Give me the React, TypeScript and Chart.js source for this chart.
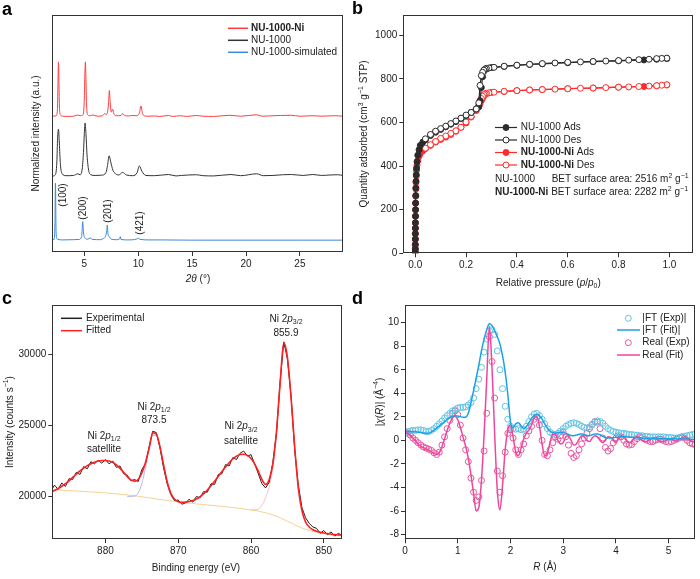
import React, { useEffect, useRef } from "react";
import { Chart, registerables } from "chart.js";
Chart.register(...registerables);

const FONT = "'Liberation Sans', Arial, Helvetica, sans-serif";
const TXT = "#222";
const AX = "#333";

// ---------------- Panel a: PXRD ----------------
const xrdNiX = [2.0, 2.4, 2.5, 2.55, 2.6, 2.65, 2.7, 2.8, 3.0, 3.5, 4.0, 4.4, 4.6, 4.9, 5.0, 5.05, 5.1, 5.15, 5.2, 5.3, 5.5, 5.8, 6.2, 6.7, 6.9, 7.0, 7.15, 7.25, 7.32, 7.4, 7.5, 7.62, 7.72, 8.0, 8.4, 8.55, 8.75, 9.1, 9.4, 9.8, 10.1, 10.25, 10.4, 10.6, 11, 11.5, 12, 12.8, 13.2, 13.9, 14.5, 15.4, 16, 17, 18.5, 19.5, 21.0, 21.5, 22.5, 23.2, 24.2, 25, 26.2, 27, 28.2, 29];
const xrdNiY = [57.3, 57.5, 60, 70, 80.2, 70, 60, 57.8, 57.3, 57.2, 57.3, 57.8, 57.5, 58, 65, 75, 80.2, 73, 63, 58, 57.5, 57.8, 57.3, 57.5, 58.5, 58, 59, 63, 68.1, 63, 59, 60.3, 58.5, 57.5, 57.6, 58.4, 57.6, 57.4, 57.6, 57.5, 58.5, 61.6, 58.5, 57.4, 57.3, 57.4, 57.2, 57.6, 57.2, 57.5, 57.2, 57.6, 57.3, 57.2, 57.7, 57.3, 57.9, 57.3, 57.5, 57.6, 57.7, 57.3, 57.5, 57.3, 57.5, 57.3];
const xrdNuX = [2.0, 2.3, 2.45, 2.52, 2.6, 2.68, 2.78, 2.95, 3.3, 4.0, 4.4, 4.6, 4.8, 4.92, 5.0, 5.07, 5.15, 5.25, 5.4, 5.6, 6.0, 6.6, 7.0, 7.15, 7.3, 7.45, 7.65, 7.9, 8.2, 8.55, 8.9, 9.5, 9.9, 10.1, 10.35, 10.7, 11.5, 12.8, 13.5, 14.0, 15.4, 16.0, 17.0, 18.6, 19.5, 21.0, 21.6, 22.5, 23.4, 24.2, 25.3, 26.2, 27.0, 27.8, 28.5, 29.0];
const xrdNuY = [32.0, 32.5, 38, 48, 51.9, 46, 37, 33, 32.2, 32.3, 33, 32.6, 35, 42, 50, 54.4, 50, 41, 34.5, 32.6, 32.3, 32.4, 33.5, 36.5, 40.6, 38, 34.5, 33, 32.5, 33.6, 32.5, 32.2, 33.5, 36.3, 34, 32.3, 32.2, 32.7, 32.1, 32.3, 32.6, 32.2, 32.1, 32.7, 32.2, 33.0, 32.2, 32.3, 32.6, 32.7, 32.3, 32.7, 32.3, 32.5, 32.6, 32.3];
const xrdSimX = [2.0, 2.2, 2.27, 2.32, 2.38, 2.5, 3.0, 4.0, 4.5, 4.75, 4.85, 4.93, 5.05, 5.3, 5.6, 5.68, 5.76, 6.5, 6.8, 6.95, 7.08, 7.13, 7.2, 7.35, 7.5, 8.0, 8.28, 8.33, 8.4, 9.0, 9.9, 10.0, 10.1, 11.0, 12.0, 15.0, 20.0, 25.0, 29.0];
const xrdSimY = [5.2, 5.3, 12, 29.1, 8, 5.4, 5.1, 5.2, 5.3, 6.5, 12.8, 8, 6, 5.4, 6.0, 5.4, 5.3, 5.2, 5.8, 6.5, 9, 11.4, 7.5, 6.3, 5.4, 5.2, 5.5, 6.5, 5.3, 5.1, 5.5, 6.0, 5.4, 5.1, 5.1, 5.0, 5.0, 5.0, 5.0];
const xrdTicks = [5, 10, 15, 20, 25];
const hklLabels = ["(100)", "(200)", "(201)", "(421)"];

// ---------------- Panel b: N2 isotherms ----------------
const adsP = [0.0001, 0.0002, 0.0003, 0.0004, 0.0005, 0.0006, 0.0008, 0.001, 0.0012, 0.0015, 0.002, 0.0025, 0.003, 0.004, 0.005, 0.007, 0.01, 0.015, 0.02, 0.03, 0.04, 0.06, 0.08, 0.1, 0.12, 0.14, 0.16, 0.18, 0.2, 0.22, 0.24, 0.25, 0.255, 0.26, 0.265, 0.27, 0.28, 0.3, 0.35, 0.4, 0.45, 0.5, 0.6, 0.7, 0.8, 0.9, 0.95, 0.99];
const nuAds = [5, 20, 40, 65, 90, 115, 140, 170, 200, 230, 265, 300, 330, 360, 390, 420, 450, 475, 495, 510, 520, 540, 555, 568, 580, 592, 604, 618, 632, 646, 662, 672, 700, 760, 810, 835, 845, 852, 857, 862, 866, 869, 874, 879, 883, 887, 890, 893];
const niAds = [5, 20, 40, 65, 90, 115, 140, 170, 200, 230, 262, 295, 325, 355, 380, 405, 425, 445, 458, 470, 480, 495, 510, 522, 533, 545, 560, 578, 598, 625, 655, 672, 685, 700, 712, 722, 732, 738, 742, 746, 749, 751, 755, 758, 762, 765, 768, 772];
const desP = [0.99, 0.97, 0.95, 0.92, 0.88, 0.84, 0.8, 0.75, 0.7, 0.65, 0.6, 0.55, 0.5, 0.45, 0.4, 0.35, 0.31, 0.29, 0.28, 0.275, 0.27, 0.265, 0.26, 0.255, 0.25, 0.24, 0.22, 0.2, 0.18, 0.16, 0.14, 0.12, 0.1, 0.08, 0.06, 0.04];
const nuDes = [895, 894, 893, 890, 888, 886, 884, 882, 880, 878, 876, 873, 870, 867, 863, 858, 853, 850, 848, 845, 840, 830, 815, 770, 690, 662, 646, 634, 620, 607, 595, 583, 572, 560, 545, 525];
const niDes = [773, 771, 769, 767, 765, 763, 762, 760, 758, 757, 755, 753, 751, 749, 746, 743, 739, 736, 734, 731, 727, 720, 710, 695, 678, 658, 628, 602, 578, 562, 550, 538, 527, 513, 498, 482];
const isoXTicks = [0, 0.2, 0.4, 0.6, 0.8, 1.0];
const isoYTicks = [0, 200, 400, 600, 800, 1000];

// ---------------- Panel c: XPS ----------------
const xpsE = [887.5, 887, 886.5, 886, 885.5, 885, 884.5, 884, 883.5, 883, 882.5, 882, 881.5, 881, 880.5, 880, 879.5, 879, 878.5, 878, 877.5, 877, 876.5, 876, 875.5, 875, 874.5, 874, 873.5, 873, 872.5, 872, 871.5, 871, 870.5, 870, 869.5, 869, 868.5, 868, 867.5, 867, 866.5, 866, 865.5, 865, 864.5, 864, 863.5, 863, 862.5, 862, 861.5, 861, 860.5, 860, 859.5, 859, 858.5, 858, 857.5, 857, 856.5, 856, 855.5, 855, 854.5, 854, 853.5, 853, 852.5, 852, 851.5, 851, 850.5, 850, 849.5, 849, 848.5, 848, 847.5];
const xpsExp = [20350, 20800, 20500, 20950, 20700, 21250, 21200, 21700, 21550, 22100, 21950, 22450, 22300, 22550, 22350, 22600, 22300, 22500, 22050, 22150, 21600, 21500, 21100, 21200, 21050, 21900, 22300, 23500, 24600, 24500, 23400, 22000, 20900, 20150, 19700, 19750, 19450, 19550, 19800, 19600, 20000, 19900, 20350, 20300, 20900, 20850, 21550, 21600, 22250, 22150, 22750, 22600, 23050, 23200, 22850, 22950, 22300, 21600, 20900, 20600, 21000, 22400, 24500, 28100, 30900, 29700, 27100, 23300, 20800, 19200, 18500, 18100, 17850, 17750, 17400, 17600, 17300, 17500, 17200, 17400, 17250];
const xpsFit = [20300, 20420, 20560, 20720, 20900, 21100, 21350, 21580, 21800, 22000, 22170, 22310, 22420, 22500, 22540, 22540, 22500, 22400, 22220, 21980, 21700, 21400, 21170, 21080, 21200, 21650, 22400, 23400, 24480, 24380, 23500, 22200, 21000, 20200, 19800, 19620, 19580, 19600, 19650, 19720, 19820, 19980, 20200, 20460, 20760, 21080, 21420, 21760, 22080, 22380, 22640, 22840, 22960, 22980, 22900, 22680, 22300, 21780, 21200, 20850, 21200, 22300, 24600, 28000, 30850, 29800, 27000, 23500, 20600, 19000, 18200, 17850, 17650, 17550, 17480, 17420, 17380, 17340, 17310, 17290, 17270];
const bgE = [887.5, 884, 880, 876, 872, 868, 864, 860, 858, 856, 854, 852, 850, 847.5];
const bgI = [20480, 20380, 20250, 20050, 19750, 19500, 19300, 19050, 18850, 18500, 18000, 17600, 17400, 17230];
const p12E = [877, 876, 875.5, 875, 874.5, 874, 873.5, 873, 872.5, 872, 871.5, 871, 870.5, 870];
const p12I = [20000, 20020, 20250, 20900, 22000, 23300, 24300, 24300, 23400, 22000, 20800, 20050, 19750, 19700];
const p32E = [860, 859, 858.5, 858, 857.5, 857, 856.5, 856, 855.5, 855, 854.5, 854, 853.5, 853, 852.5];
const p32I = [19050, 19100, 19400, 19900, 20700, 22000, 24300, 27800, 30700, 29700, 26900, 23400, 20400, 18900, 18100];
const xpsXTicks = [850, 860, 870, 880];
const xpsYTicks = [20000, 25000, 30000];

// ---------------- Panel d: EXAFS ----------------
const rGrid = [0, 0.05, 0.1, 0.15, 0.2, 0.25, 0.3, 0.35, 0.4, 0.45, 0.5, 0.55, 0.6, 0.65, 0.7, 0.75, 0.8, 0.85, 0.9, 0.95, 1.0, 1.05, 1.1, 1.15, 1.2, 1.25, 1.3, 1.35, 1.4, 1.45, 1.5, 1.55, 1.6, 1.65, 1.7, 1.75, 1.8, 1.85, 1.9, 1.95, 2.0, 2.05, 2.1, 2.15, 2.2, 2.25, 2.3, 2.35, 2.4, 2.45, 2.5, 2.55, 2.6, 2.65, 2.7, 2.75, 2.8, 2.85, 2.9, 2.95, 3.0, 3.05, 3.1, 3.15, 3.2, 3.25, 3.3, 3.35, 3.4, 3.45, 3.5, 3.55, 3.6, 3.65, 3.7, 3.75, 3.8, 3.85, 3.9, 3.95, 4.0, 4.05, 4.1, 4.15, 4.2, 4.25, 4.3, 4.35, 4.4, 4.45, 4.5, 4.55, 4.6, 4.65, 4.7, 4.75, 4.8, 4.85, 4.9, 4.95, 5.0, 5.05, 5.1, 5.15, 5.2, 5.25, 5.3, 5.35, 5.4, 5.45, 5.5];
const ftExp = [0.70, 0.75, 0.80, 0.85, 0.85, 0.90, 0.90, 0.85, 0.75, 0.75, 0.85, 1.00, 1.20, 1.40, 1.65, 1.90, 2.10, 2.30, 2.50, 2.60, 2.75, 2.80, 2.80, 2.85, 3.00, 3.20, 3.60, 4.40, 5.20, 6.20, 7.50, 8.60, 9.30, 9.40, 9.00, 7.60, 6.00, 4.40, 2.90, 1.80, 1.20, 1.00, 0.95, 1.00, 0.90, 0.95, 1.20, 1.60, 2.00, 2.25, 2.30, 2.10, 1.80, 1.40, 1.00, 0.70, 0.55, 0.50, 0.60, 0.80, 1.00, 1.20, 1.35, 1.45, 1.50, 1.45, 1.35, 1.20, 1.10, 1.05, 1.15, 1.35, 1.55, 1.65, 1.60, 1.45, 1.20, 1.00, 0.85, 0.75, 0.70, 0.65, 0.60, 0.60, 0.55, 0.50, 0.50, 0.45, 0.45, 0.40, 0.40, 0.35, 0.35, 0.30, 0.30, 0.30, 0.30, 0.30, 0.30, 0.25, 0.25, 0.25, 0.20, 0.20, 0.25, 0.30, 0.35, 0.40, 0.45, 0.50, 0.55];
const ftFit = [0.75, 0.76, 0.76, 0.75, 0.73, 0.70, 0.67, 0.63, 0.60, 0.62, 0.72, 0.88, 1.05, 1.22, 1.40, 1.58, 1.76, 1.92, 2.05, 2.10, 2.08, 2.02, 1.96, 1.97, 2.30, 3.20, 4.20, 5.30, 6.40, 7.60, 8.60, 9.40, 9.90, 9.75, 9.30, 8.80, 8.20, 7.20, 5.80, 3.90, 1.60, 1.10, 1.40, 1.50, 1.25, 1.00, 1.15, 1.50, 1.85, 2.10, 2.20, 2.10, 1.80, 1.40, 1.05, 0.80, 0.65, 0.62, 0.66, 0.70, 0.68, 0.60, 0.50, 0.42, 0.40, 0.45, 0.52, 0.55, 0.50, 0.42, 0.40, 0.48, 0.55, 0.55, 0.48, 0.35, 0.25, 0.20, 0.20, 0.23, 0.26, 0.28, 0.30, 0.30, 0.30, 0.28, 0.26, 0.25, 0.24, 0.22, 0.20, 0.18, 0.17, 0.17, 0.18, 0.18, 0.17, 0.15, 0.14, 0.14, 0.15, 0.15, 0.14, 0.12, 0.11, 0.11, 0.12, 0.12, 0.11, 0.10, 0.10];
const reExp = [0.75, 0.60, 0.45, 0.20, 0.00, -0.20, -0.40, -0.55, -0.65, -0.75, -0.85, -1.05, -1.20, -1.00, -0.40, 0.30, 1.00, 1.70, 2.30, 2.50, 2.20, 1.30, 0.20, -0.80, -1.80, -3.20, -4.40, -5.10, -4.80, -3.40, -0.90, 2.30, 8.80, 6.70, 3.60, -2.60, -4.40, -3.00, -1.00, 0.60, 0.90, 0.20, -0.80, -1.20, -0.80, -0.30, 0.40, 0.80, 1.20, 1.80, 2.00, 1.30, 0.00, -1.20, -1.30, -0.80, -0.20, 0.30, 0.10, 0.40, 0.70, 0.30, -0.40, -1.10, -1.45, -1.30, -0.80, -0.30, 0.20, 0.60, 1.00, 1.35, 1.60, 1.55, 1.00, 0.20, -0.60, -0.90, -0.70, -0.20, 0.20, 0.40, 0.30, 0.00, -0.30, -0.40, -0.35, -0.10, 0.15, 0.30, 0.25, 0.10, 0.00, -0.10, -0.10, 0.00, 0.10, 0.10, 0.00, -0.10, -0.15, -0.10, 0.00, 0.10, 0.20, 0.30, 0.20, 0.00, -0.20, -0.30, -0.35];
const reFit = [0.70, 0.60, 0.42, 0.20, -0.05, -0.30, -0.50, -0.62, -0.72, -0.82, -0.95, -1.10, -1.20, -1.05, -0.55, 0.15, 0.85, 1.45, 1.90, 2.05, 1.75, 1.10, 0.30, -0.50, -1.50, -2.90, -4.50, -6.00, -5.70, -3.40, 0.50, 5.20, 9.70, 6.20, 0.60, -4.20, -5.90, -3.80, -0.80, 0.90, 1.30, 0.30, -1.00, -1.30, -0.70, 0.10, 0.60, 0.90, 1.30, 1.90, 2.00, 1.20, -0.30, -1.30, -1.10, -0.20, 0.50, 0.50, 0.00, -0.30, -0.20, 0.30, 0.40, 0.00, -0.40, -0.30, 0.10, 0.40, 0.30, 0.00, -0.10, 0.20, 0.40, 0.30, 0.00, -0.20, 0.00, 0.30, 0.25, 0.00, -0.20, 0.20, 0.40, 0.30, 0.00, -0.20, -0.10, 0.20, 0.30, 0.20, 0.00, -0.10, -0.05, 0.10, 0.20, 0.15, 0.00, -0.10, -0.10, 0.00, 0.10, 0.10, 0.00, -0.05, 0.10, 0.20, 0.30, 0.20, 0.00, -0.10, -0.10];
const exXTicks = [0, 1, 2, 3, 4, 5];
const exYTicks = [-8, -6, -4, -2, 0, 2, 4, 6, 8, 10];

// ---------------- helpers ----------------
const pts = (xs: number[], ys: number[]) => xs.map((x, i) => ({ x, y: ys[i] }));

type Seg = { t: string; b?: boolean; i?: boolean; sub?: boolean; sup?: boolean };
function fontOf(s: Seg, size: number) {
  const sz = s.sub || s.sup ? Math.round(size * 0.72) : size;
  return `${s.i ? "italic " : ""}${s.b ? "bold " : ""}${sz}px ${FONT}`;
}
function rich(ctx: CanvasRenderingContext2D, segs: Seg[], x: number, y: number, o: { size?: number; align?: string; rot?: number; color?: string } = {}) {
  const size = o.size ?? 10;
  ctx.save();
  ctx.translate(x, y);
  if (o.rot) ctx.rotate(o.rot);
  ctx.textBaseline = "middle";
  ctx.textAlign = "left";
  ctx.fillStyle = o.color ?? TXT;
  let w = 0;
  for (const s of segs) { ctx.font = fontOf(s, size); w += ctx.measureText(s.t).width; }
  let cx = o.align === "center" ? -w / 2 : o.align === "right" ? -w : 0;
  for (const s of segs) {
    ctx.font = fontOf(s, size);
    const dy = s.sub ? size * 0.3 : s.sup ? -size * 0.35 : 0;
    ctx.fillText(s.t, cx, dy);
    cx += ctx.measureText(s.t).width;
  }
  ctx.restore();
}
function letter(ctx: CanvasRenderingContext2D, t: string, x: number, y: number) {
  ctx.save();
  ctx.font = `bold 18px ${FONT}`;
  ctx.fillStyle = "#000";
  ctx.textBaseline = "alphabetic";
  ctx.textAlign = "left";
  ctx.fillText(t, x, y);
  ctx.restore();
}
function legLine(ctx: CanvasRenderingContext2D, x1: number, x2: number, y: number, color: string, w = 1.5) {
  ctx.save();
  ctx.strokeStyle = color;
  ctx.lineWidth = w;
  ctx.beginPath();
  ctx.moveTo(x1, y);
  ctx.lineTo(x2, y);
  ctx.stroke();
  ctx.restore();
}
function legCircle(ctx: CanvasRenderingContext2D, x: number, y: number, r: number, stroke: string, fill: string | null) {
  ctx.save();
  ctx.beginPath();
  ctx.arc(x, y, r, 0, Math.PI * 2);
  if (fill) { ctx.fillStyle = fill; ctx.fill(); }
  ctx.strokeStyle = stroke;
  ctx.lineWidth = 1;
  ctx.stroke();
  ctx.restore();
}

function axis(o: { min: number; max: number; ticks?: number[]; size: number; dir: "x" | "y"; reverse?: boolean; fmt?: (v: number) => string; hidden?: boolean }) {
  return {
    type: "linear",
    min: o.min,
    max: o.max,
    reverse: !!o.reverse,
    display: !o.hidden,
    afterBuildTicks: (s: any) => { if (o.ticks) s.ticks = o.ticks.map((v) => ({ value: v })); },
    afterFit: (s: any) => { if (o.dir === "x") s.height = o.size; else s.width = o.size; },
    ticks: {
      font: { family: FONT, size: 10 },
      color: TXT,
      padding: 2,
      maxRotation: 0,
      autoSkip: false,
      callback: (v: any) => (o.fmt ? o.fmt(Number(v)) : String(v)),
    },
    grid: { display: true, drawOnChartArea: false, drawTicks: true, tickLength: 4, color: AX, lineWidth: 1 },
    border: { display: false },
  };
}

function deco(draw: (ctx: CanvasRenderingContext2D, chart: any) => void) {
  return {
    id: "deco",
    afterDraw(chart: any) {
      const ctx = chart.ctx as CanvasRenderingContext2D;
      const a = chart.chartArea;
      ctx.save();
      ctx.strokeStyle = AX;
      ctx.lineWidth = 1;
      ctx.strokeRect(Math.round(a.left) + 0.5, Math.round(a.top) + 0.5, Math.round(a.right - a.left) - 1, Math.round(a.bottom - a.top) - 1);
      ctx.restore();
      draw(ctx, chart);
    },
  };
}

function baseOptions(padding: any, x: any, y: any) {
  return {
    responsive: false,
    maintainAspectRatio: false,
    animation: false,
    devicePixelRatio: 1,
    events: [],
    layout: { padding },
    plugins: { legend: { display: false }, tooltip: { enabled: false }, title: { display: false } },
    scales: { x, y },
  };
}

// ---------------- chart configs ----------------
function configA(): any {
  const line = (xs: number[], ys: number[], color: string) => ({
    data: pts(xs, ys), borderColor: color, borderWidth: 1, pointRadius: 0, cubicInterpolationMode: "monotone", fill: false,
  });
  const hklPos = [[63.3, 195], [83.3, 208], [108.3, 211], [140, 223]];
  return {
    type: "line",
    data: { datasets: [line(xrdNiX, xrdNiY, "#ff3c3c"), line(xrdNuX, xrdNuY, "#333333"), line(xrdSimX, xrdSimY, "#3d8ad6")] },
    options: baseOptions(
      { left: 52, right: 7, top: 15, bottom: 0 },
      axis({ min: 2, max: 29, ticks: xrdTicks, size: 38, dir: "x" }),
      axis({ min: 0, max: 100, size: 0, dir: "y", hidden: true })
    ),
    plugins: [
      deco((ctx) => {
        letter(ctx, "a", 2, 15);
        rich(ctx, [{ t: "Normalized intensity (a.u.)" }], 36, 133.5, { align: "center", rot: -Math.PI / 2 });
        rich(ctx, [{ t: "2", i: true }, { t: "θ", i: true }, { t: " (°)" }], 198, 279.5, { align: "center" });
        const leg: [Seg[], string][] = [
          [[{ t: "NU-1000-Ni", b: true }], "#ff3c3c"],
          [[{ t: "NU-1000" }], "#333333"],
          [[{ t: "NU-1000-simulated" }], "#3d8ad6"],
        ];
        leg.forEach(([segs, c], i) => {
          const y = 28.3 + i * 12;
          legLine(ctx, 228, 248, y, c, 1.5);
          rich(ctx, segs, 251, y);
        });
        hklLabels.forEach((t, i) => rich(ctx, [{ t }], hklPos[i][0], hklPos[i][1], { align: "center", rot: -Math.PI / 2 }));
      }),
    ],
  };
}

function configB(): any {
  const BLK = "#2b2b2b";
  const RED = "#ff2a2a";
  const ds = (xs: number[], ys: number[], color: string, filled: boolean) => ({
    data: pts(xs, ys), borderColor: color, borderWidth: 1.2, pointRadius: 3, pointBorderWidth: 1,
    pointBorderColor: color, pointBackgroundColor: filled ? color : "#ffffff", tension: 0, fill: false,
  });
  return {
    type: "line",
    data: {
      datasets: [ds(desP, nuDes, BLK, false), ds(adsP, nuAds, BLK, true), ds(desP, niDes, RED, false), ds(adsP, niAds, RED, true)],
    },
    options: baseOptions(
      { left: 0, right: 7, top: 15, bottom: 0 },
      axis({ min: -0.047, max: 1.093, ticks: isoXTicks, size: 36.7, dir: "x", fmt: (v) => v.toFixed(1) }),
      axis({ min: 0, max: 1093, ticks: isoYTicks, size: 53.3, dir: "y" })
    ),
    plugins: [
      deco((ctx) => {
        letter(ctx, "b", 2, 14);
        rich(ctx, [{ t: "Quantity adsorbed (cm" }, { t: "3", sup: true }, { t: " g" }, { t: "−1", sup: true }, { t: " STP)" }], 14.3, 134, { align: "center", rot: -Math.PI / 2 });
        rich(ctx, [{ t: "Relative pressure (" }, { t: "p", i: true }, { t: "/" }, { t: "p", i: true }, { t: "0", sub: true }, { t: ")" }], 198.3, 283.3, { align: "center" });
        const rows: [Seg[], string, boolean][] = [
          [[{ t: "NU-1000 Ads" }], BLK, true],
          [[{ t: "NU-1000 Des" }], BLK, false],
          [[{ t: "NU-1000-Ni", b: true }, { t: " Ads" }], RED, true],
          [[{ t: "NU-1000-Ni", b: true }, { t: " Des" }], RED, false],
        ];
        rows.forEach(([segs, c, filled], i) => {
          const y = 127.5 + i * 12.5;
          legLine(ctx, 145, 167, y, c, 1.2);
          legCircle(ctx, 156, y, 3, c, filled ? c : "#fff");
          rich(ctx, segs, 170.7, y);
        });
        rich(ctx, [{ t: "NU-1000" }], 145, 179.3);
        rich(ctx, [{ t: "BET surface area: 2516 m" }, { t: "2", sup: true }, { t: " g" }, { t: "−1", sup: true }], 201.7, 179.3);
        rich(ctx, [{ t: "NU-1000-Ni", b: true }, { t: " BET surface area: 2282 m" }, { t: "2", sup: true }, { t: " g" }, { t: "−1", sup: true }], 145, 192.7);
      }),
    ],
  };
}

function configC(): any {
  const ln = (xs: number[], ys: number[], color: string, w: number, order: number) => ({
    data: pts(xs, ys), borderColor: color, borderWidth: w, pointRadius: 0, cubicInterpolationMode: "monotone", fill: false, order,
  });
  return {
    type: "line",
    data: {
      datasets: [
        ln(bgE, bgI, "rgba(240,200,120,0.8)", 1, 4),
        ln(p12E, p12I, "rgba(170,150,230,0.7)", 1, 3),
        ln(p32E, p32I, "rgba(245,170,190,0.7)", 1, 3),
        { ...ln(xpsE, xpsExp, "#222222", 1, 1), cubicInterpolationMode: "default", tension: 0 },
        ln(xpsE, xpsFit, "#ff2020", 1.6, 0),
      ],
    },
    options: baseOptions(
      { left: 0, right: 8, top: 15, bottom: 0 },
      axis({ min: 847.5, max: 887.3, ticks: xpsXTicks, size: 40, dir: "x", reverse: true }),
      axis({ min: 17000, max: 33500, ticks: xpsYTicks, size: 52.3, dir: "y" })
    ),
    plugins: [
      deco((ctx) => {
        letter(ctx, "c", 2, 14);
        rich(ctx, [{ t: "Intensity (counts s" }, { t: "−1", sup: true }, { t: ")" }], 10, 132, { align: "center", rot: -Math.PI / 2 });
        rich(ctx, [{ t: "Binding energy (eV)" }], 196, 278, { align: "center" });
        legLine(ctx, 61, 82, 28.3, "#222", 1.5);
        rich(ctx, [{ t: "Experimental" }], 86, 28.3);
        legLine(ctx, 61, 82, 40.7, "#ff2020", 1.5);
        rich(ctx, [{ t: "Fitted" }], 86, 40.7);
        const ni = (half: string): Seg[] => [{ t: "Ni 2" }, { t: "p", i: true }, { t: half, sub: true }];
        rich(ctx, ni("1/2"), 104, 146, { align: "center" });
        rich(ctx, [{ t: "satellite" }], 104, 159, { align: "center" });
        rich(ctx, ni("1/2"), 154, 117, { align: "center" });
        rich(ctx, [{ t: "873.5" }], 154, 130.5, { align: "center" });
        rich(ctx, ni("3/2"), 241, 136.7, { align: "center" });
        rich(ctx, [{ t: "satellite" }], 241, 151, { align: "center" });
        rich(ctx, ni("3/2"), 286, 29.3, { align: "center" });
        rich(ctx, [{ t: "855.9" }], 286, 43, { align: "center" });
      }),
    ],
  };
}

function configD(): any {
  const CY = "#62c4e2";
  const BL = "#1da1e6";
  const PKC = "#e4579f";
  const PKL = "#f2449c";
  const circ = (ys: number[], color: string) => ({
    data: pts(rGrid, ys), showLine: false, pointRadius: 3, pointBorderWidth: 1, pointBorderColor: color,
    pointBackgroundColor: "rgba(0,0,0,0)", borderColor: color, order: 2,
  });
  const ln = (ys: number[], color: string) => ({
    data: pts(rGrid, ys), borderColor: color, borderWidth: 1.5, pointRadius: 0, cubicInterpolationMode: "monotone", fill: false, order: 1,
  });
  return {
    type: "line",
    data: { datasets: [circ(ftExp, CY), circ(reExp, PKC), ln(ftFit, BL), ln(reFit, PKL)] },
    options: baseOptions(
      { left: 0, right: 4.5, top: 15, bottom: 0 },
      axis({ min: 0, max: 5.5, ticks: exXTicks, size: 39.7, dir: "x" }),
      axis({ min: -8.4, max: 11.5, ticks: exYTicks, size: 55, dir: "y" })
    ),
    plugins: [
      deco((ctx) => {
        letter(ctx, "d", 2, 14);
        rich(ctx, [{ t: "|" }, { t: "χ", i: true }, { t: "(" }, { t: "R", i: true }, { t: ")| (Å" }, { t: "−4", sup: true }, { t: ")" }], 30, 112, { align: "center", rot: -Math.PI / 2 });
        rich(ctx, [{ t: "R", i: true }, { t: " (Å)" }], 195, 277, { align: "center" });
        legCircle(ctx, 278.3, 28.3, 3, CY, null);
        rich(ctx, [{ t: "|FT (Exp)|" }], 292.3, 28.3);
        legLine(ctx, 267, 290, 40, BL, 1.5);
        rich(ctx, [{ t: "|FT (Fit)|" }], 292.3, 40);
        legCircle(ctx, 278.3, 52.7, 3, PKC, null);
        rich(ctx, [{ t: "Real (Exp)" }], 292.3, 52.7);
        legLine(ctx, 267, 290, 65, PKL, 1.5);
        rich(ctx, [{ t: "Real (Fit)" }], 292.3, 65);
      }),
    ],
  };
}

function Panel({ left, top, width, height, make }: { left: number; top: number; width: number; height: number; make: () => any }) {
  const ref = useRef<HTMLCanvasElement | null>(null);
  useEffect(() => {
    if (!ref.current) return;
    const chart = new Chart(ref.current, make());
    return () => chart.destroy();
  }, []);
  return (
    <div style={{ position: "absolute", left, top, width, height }}>
      <canvas ref={ref} width={width} height={height} style={{ width, height, display: "block" }} />
    </div>
  );
}

export default function App() {
  return (
    <div style={{ position: "absolute", left: 0, top: 0, width: 700, height: 579, background: "#fff", overflow: "hidden" }}>
      <Panel left={0} top={0} width={350} height={290} make={configA} />
      <Panel left={350} top={0} width={350} height={290} make={configB} />
      <Panel left={0} top={290} width={350} height={289} make={configC} />
      <Panel left={350} top={290} width={350} height={289} make={configD} />
    </div>
  );
}
